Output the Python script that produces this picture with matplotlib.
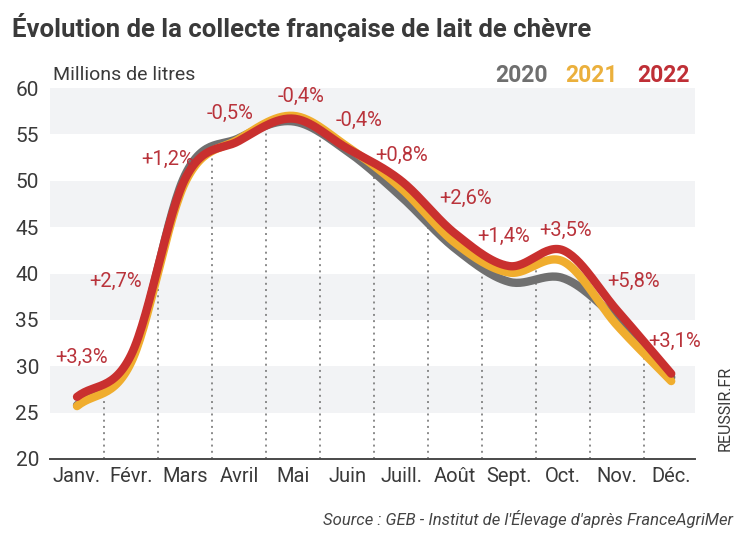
import numpy as np
import matplotlib
matplotlib.use("Agg")
import matplotlib.pyplot as plt

# ---------------------------------------------------------------------------
# Data (millions of litres)
# ---------------------------------------------------------------------------
MONTHS = ["Janv.", "Févr.", "Mars", "Avril", "Mai", "Juin",
          "Juill.", "Août", "Sept.", "Oct.", "Nov.", "Déc."]

COLLECT_2020 = [25.8, 30.6, 50.6, 54.6, 56.4, 53.2, 48.3, 42.7, 39.1, 39.5, 35.0, 28.8]
COLLECT_2021 = [25.7, 30.4, 49.8, 54.5, 57.0, 53.7, 49.2, 43.3, 40.1, 41.3, 34.4, 28.4]
COLLECT_2022 = [26.7, 31.2, 50.2, 54.3, 56.7, 53.5, 50.0, 44.3, 40.8, 42.5, 36.0, 29.2]

# 2022 vs 2021 change labels and where they sit (month index, value)
CHANGE_LABELS = ["+3,3%", "+2,7%", "+1,2%", "-0,5%", "-0,4%", "-0,4%",
                 "+0,8%", "+2,6%", "+1,4%", "+3,5%", "+5,8%", "+3,1%"]
LABEL_X = [0.09, 0.72, 1.67, 2.83, 4.15, 5.22, 6.0, 7.2, 7.9, 9.04, 10.3, 11.07]
LABEL_Y = [31.0, 39.2, 52.3, 57.3, 59.1, 56.5, 52.7, 48.1, 44.0, 44.6, 39.2, 32.7]

YEARS = ["2020", "2021", "2022"]
COLORS = {"2020": "#707070", "2021": "#F0AD2E", "2022": "#C9302F"}
TEXT_COLORS = {"2020": "#6f6f6f", "2021": "#EBB03C", "2022": "#BF2F36"}
LABEL_RED = "#B9333B"
DARK = "#3a3a3a"

plt.rcParams["font.family"] = ["Roboto", "DejaVu Sans"]


def smooth(y, n=30):
    """Catmull-Rom curve through the monthly points (for drawing only)."""
    y = np.asarray(y, dtype=float)
    x = np.arange(len(y), dtype=float)
    p = np.concatenate([[2 * y[0] - y[1]], y, [2 * y[-1] - y[-2]]])
    xs, ys = [], []
    for i in range(len(y) - 1):
        t = np.linspace(0, 1, n, endpoint=False)
        p0, p1, p2, p3 = p[i], p[i + 1], p[i + 2], p[i + 3]
        seg = 0.5 * ((2 * p1) + (-p0 + p2) * t
                     + (2 * p0 - 5 * p1 + 4 * p2 - p3) * t ** 2
                     + (-p0 + 3 * p1 - 3 * p2 + p3) * t ** 3)
        xs.append(x[i] + t)
        ys.append(seg)
    xs.append([x[-1]])
    ys.append([y[-1]])
    return np.concatenate(xs), np.concatenate(ys)


fig = plt.figure(figsize=(7.47, 5.43), dpi=100)
ax = fig.add_axes([50 / 747, 1 - 459 / 543, 645 / 747, 371 / 543])
ax.set_xlim(-0.5, 11.44)
ax.set_ylim(20, 60)

# alternating bands
for lo in (25, 35, 45, 55):
    ax.axhspan(lo, lo + 5, color="#f2f3f5", lw=0, zorder=0)

series = {"2020": COLLECT_2020, "2021": COLLECT_2021, "2022": COLLECT_2022}
curves = {yr: smooth(v) for yr, v in series.items()}

# dotted month separators, from the baseline up to the curves
for k in range(len(MONTHS) - 1):
    xm = k + 0.5
    top = max(np.interp(xm, *curves[yr]) for yr in YEARS)
    ax.plot([xm, xm], [20, top], color="#8a8a8a", lw=1.4,
            linestyle=(0, (1, 2.2)), zorder=1)

for yr in YEARS:
    xs, ys = curves[yr]
    ax.plot(xs, ys, color=COLORS[yr], lw=6, solid_capstyle="round",
            solid_joinstyle="round", zorder=3)

for lab, lx, ly in zip(CHANGE_LABELS, LABEL_X, LABEL_Y):
    ax.text(lx, ly, lab, color=LABEL_RED, fontsize=14.5, ha="center",
            va="center", zorder=4)

for s in ("top", "right", "left"):
    ax.spines[s].set_visible(False)
ax.spines["bottom"].set_color("#4a4a4a")
ax.spines["bottom"].set_linewidth(1.4)

ax.set_xticks(range(len(MONTHS)))
ax.set_xticklabels(MONTHS, fontsize=14.5, color=DARK)
ax.set_yticks(range(20, 61, 5))
ax.set_yticklabels([str(v) for v in range(20, 61, 5)], fontsize=15, color=DARK)
ax.tick_params(axis="both", length=0)
ax.tick_params(axis="x", pad=6)
ax.tick_params(axis="y", pad=8)

fig.text(12 / 747, 1 - 28 / 543, "Évolution de la collecte française de lait de chèvre",
         fontsize=18.5, fontweight="bold", color=DARK, ha="left", va="center")
fig.text(53 / 747, 1 - 75 / 543, "Millions de litres", fontsize=14,
         color=DARK, ha="left", va="center")

for yr, cx in zip(YEARS, (522, 592, 663)):
    fig.text(cx / 747, 1 - 75 / 543, yr, fontsize=16.5, fontweight="bold",
             color=TEXT_COLORS[yr], ha="center", va="center")

fig.text(725 / 747, 1 - 408 / 543, "REUSSIR.FR", fontsize=11.5, color=DARK,
         rotation=90, ha="center", va="center")
fig.text(733 / 747, 1 - 519 / 543,
         "Source : GEB - Institut de l'Élevage d'après FranceAgriMer",
         fontsize=12, style="italic", color="#444444", ha="right", va="center")

fig.savefig("out.png", dpi=100)
